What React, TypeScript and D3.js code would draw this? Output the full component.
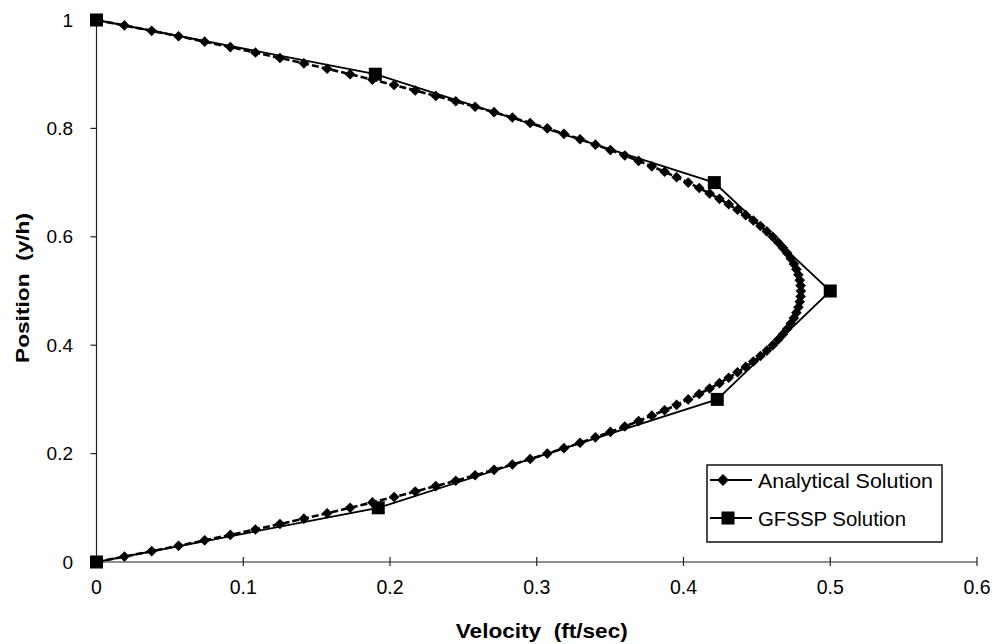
import React from "react";
import * as d3 from "d3";

// Analytical solution: position (y/h) and velocity (ft/sec)
const analyticalPosition: number[] = [
  0, 0.01, 0.02, 0.03, 0.04, 0.05, 0.06, 0.07, 0.08, 0.09,
  0.1, 0.11, 0.12, 0.13, 0.14, 0.15, 0.16, 0.17, 0.18, 0.19,
  0.2, 0.21, 0.22, 0.23, 0.24, 0.25, 0.26, 0.27, 0.28, 0.29,
  0.3, 0.31, 0.32, 0.33, 0.34, 0.35, 0.36, 0.37, 0.38, 0.39,
  0.4, 0.41, 0.42, 0.43, 0.44, 0.45, 0.46, 0.47, 0.48, 0.49,
  0.5, 0.51, 0.52, 0.53, 0.54, 0.55, 0.56, 0.57, 0.58, 0.59,
  0.6, 0.61, 0.62, 0.63, 0.64, 0.65, 0.66, 0.67, 0.68, 0.69,
  0.7, 0.71, 0.72, 0.73, 0.74, 0.75, 0.76, 0.77, 0.78, 0.79,
  0.8, 0.81, 0.82, 0.83, 0.84, 0.85, 0.86, 0.87, 0.88, 0.89,
  0.9, 0.91, 0.92, 0.93, 0.94, 0.95, 0.96, 0.97, 0.98, 0.99, 1,
];
const analyticalVelocity: number[] = [
  0, 0.019, 0.0376, 0.0559, 0.0737, 0.0912, 0.1083, 0.125, 0.1413, 0.1572,
  0.1728, 0.188, 0.2028, 0.2172, 0.2312, 0.2448, 0.258, 0.2709, 0.2834, 0.2955,
  0.3072, 0.3185, 0.3295, 0.34, 0.3502, 0.36, 0.3694, 0.3784, 0.3871, 0.3953,
  0.4032, 0.4107, 0.4178, 0.4245, 0.4308, 0.4368, 0.4424, 0.4476, 0.4524, 0.4568,
  0.4608, 0.4644, 0.4677, 0.4706, 0.4731, 0.4752, 0.4769, 0.4783, 0.4792, 0.4798,
  0.48,
  0.4798, 0.4792, 0.4783, 0.4769, 0.4752, 0.4731, 0.4706, 0.4677, 0.4644, 0.4608,
  0.4568, 0.4524, 0.4476, 0.4424, 0.4368, 0.4308, 0.4245, 0.4178, 0.4107, 0.4032,
  0.3953, 0.3871, 0.3784, 0.3694, 0.36, 0.3502, 0.34, 0.3295, 0.3185, 0.3072,
  0.2955, 0.2834, 0.2709, 0.258, 0.2448, 0.2312, 0.2172, 0.2028, 0.188, 0.1728,
  0.1572, 0.1413, 0.125, 0.1083, 0.0912, 0.0737, 0.0559, 0.0376, 0.019, 0,
];

// GFSSP solution
const gfsspPosition: number[] = [0, 0.1, 0.3, 0.5, 0.7, 0.9, 1];
const gfsspVelocity: number[] = [0, 0.192, 0.423, 0.5, 0.421, 0.19, 0];

const xTicks: number[] = [0, 0.1, 0.2, 0.3, 0.4, 0.5, 0.6];
const yTicks: number[] = [0, 0.2, 0.4, 0.6, 0.8, 1];
const xTickLabels: string[] = ["0", "0.1", "0.2", "0.3", "0.4", "0.5", "0.6"];
const yTickLabels: string[] = ["0", "0.2", "0.4", "0.6", "0.8", "1"];

const seriesNames: string[] = ["Analytical Solution", "GFSSP Solution"];
const xTitle = "Velocity  (ft/sec)";
const yTitle = "Position  (y/h)";

const W = 994;
const H = 644;
const FONT = "'Liberation Sans', Arial, sans-serif";

export default function App() {
  const x = d3.scaleLinear().domain([0, 0.6]).range([96.5, 977]);
  const y = d3.scaleLinear().domain([0, 1]).range([562, 20]);

  const analytical = analyticalPosition.map((p, i) => ({ v: analyticalVelocity[i], p }));
  const gfssp = gfsspPosition.map((p, i) => ({ v: gfsspVelocity[i], p }));

  const line = d3
    .line<{ v: number; p: number }>()
    .x((d) => x(d.v))
    .y((d) => y(d.p));

  const diamond = d3.symbol().type(d3.symbolDiamond2).size(72)()!;
  const legendDiamond = d3.symbol().type(d3.symbolDiamond2).size(90)()!;
  const square = (cx: number, cy: number, s: number, key: string | number) => (
    <rect key={key} x={cx - s / 2} y={cy - s / 2} width={s} height={s} fill="#000" />
  );

  const [x0, x1] = x.range();
  const [y0, y1] = y.range();

  const legX = 707;
  const legY = 465;
  const legW = 235;
  const legH = 77;
  const row1 = 480;
  const row2 = 518;

  return (
    <svg
      width={W}
      height={H}
      style={{ position: "absolute", left: 0, top: 0, background: "#fff" }}
      fontFamily={FONT}
    >
      <rect x={0} y={0} width={W} height={H} fill="#fff" />

      {/* axes */}
      <line x1={x0} x2={x1} y1={y0} y2={y0} stroke="#222" strokeWidth={1.2} />
      <line x1={x0} x2={x0} y1={y0} y2={y1} stroke="#222" strokeWidth={1.2} />
      {xTicks.map((t, i) => (
        <g key={"xt" + i}>
          <line x1={x(t)} x2={x(t)} y1={y0 - 5} y2={y0 + 4} stroke="#222" strokeWidth={1.2} />
          <text x={x(t)} y={594} textAnchor="middle" fontSize={19.5} fill="#000">
            {xTickLabels[i]}
          </text>
        </g>
      ))}
      {yTicks.map((t, i) => (
        <g key={"yt" + i}>
          <line x1={x0 - 6} x2={x0} y1={y(t)} y2={y(t)} stroke="#222" strokeWidth={1.2} />
          <text x={73} y={y(t) + 6.5} textAnchor="end" fontSize={19} fill="#000">
            {yTickLabels[i]}
          </text>
        </g>
      ))}

      {/* axis titles */}
      <text
        x={(x0 + x1) / 2 + 5}
        y={638}
        textAnchor="middle"
        fontSize={20}
        fontWeight="bold"
        textLength={172}
        lengthAdjust="spacingAndGlyphs"
        style={{ whiteSpace: "pre" }}
      >
        {xTitle}
      </text>
      <text
        transform={`translate(29, ${(y0 + y1) / 2 - 3}) rotate(-90)`}
        textAnchor="middle"
        fontSize={19}
        fontWeight="bold"
        textLength={150}
        lengthAdjust="spacingAndGlyphs"
        style={{ whiteSpace: "pre" }}
      >
        {yTitle}
      </text>

      {/* series lines */}
      <path
        d={line(analytical)!}
        fill="none"
        stroke="#000"
        strokeWidth={2.6}
        strokeDasharray="7 3"
      />
      <path d={line(gfssp)!} fill="none" stroke="#000" strokeWidth={1.8} />

      {/* markers */}
      {analytical.map((d, i) => (
        <path key={"a" + i} d={diamond} transform={`translate(${x(d.v)},${y(d.p)})`} fill="#000" />
      ))}
      {gfssp.map((d, i) => square(x(d.v), y(d.p), 13, "g" + i))}

      {/* legend */}
      <rect x={legX} y={legY} width={legW} height={legH} fill="#fff" stroke="#111" strokeWidth={1.5} />
      <line x1={legX + 3} x2={752} y1={row1} y2={row1} stroke="#000" strokeWidth={1.8} />
      <path d={legendDiamond} transform={`translate(723,${row1})`} fill="#000" />
      <line x1={legX + 3} x2={752} y1={row2} y2={row2} stroke="#000" strokeWidth={1.8} />
      {square(728, row2, 13, "lg")}
      <text x={758} y={row1 + 7.5} fontSize={21} textLength={175} lengthAdjust="spacingAndGlyphs">
        {seriesNames[0]}
      </text>
      <text x={758} y={row2 + 7.5} fontSize={21} textLength={148} lengthAdjust="spacingAndGlyphs">
        {seriesNames[1]}
      </text>
    </svg>
  );
}
